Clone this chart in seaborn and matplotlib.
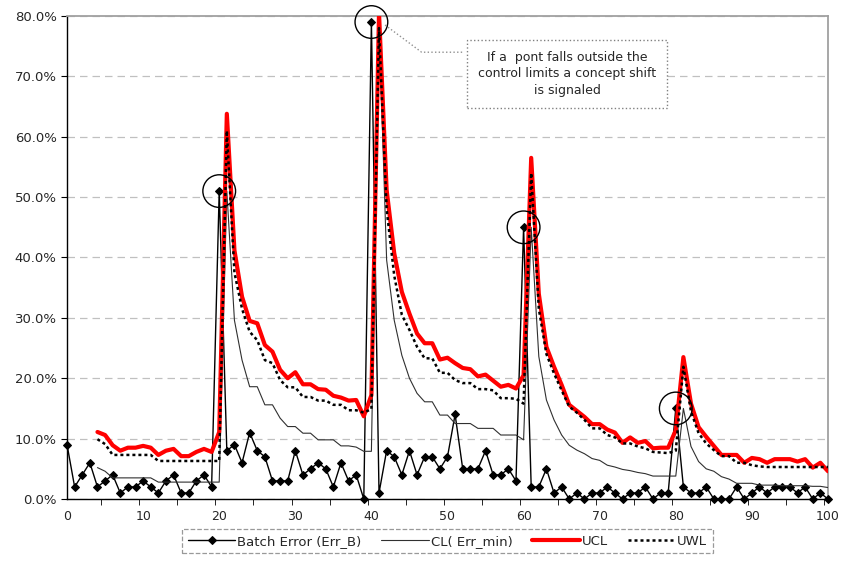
import numpy as np
import pandas as pd
import matplotlib
matplotlib.use("Agg")
import matplotlib.pyplot as plt
import seaborn as sns
from matplotlib.patches import Ellipse
from matplotlib.ticker import PercentFormatter, FixedLocator

# batch index 0..100, values in percent
batch_err = [9, 2, 4, 6, 2, 3, 4, 1, 2, 2, 3, 2, 1, 3, 4, 1, 1, 3, 4, 2,
             51, 8, 9, 6, 11, 8, 7, 3, 3, 3, 8, 4, 5, 6, 5, 2, 6, 3, 4, 0,
             79, 1, 8, 7, 4, 8, 4, 7, 7, 5, 7, 14, 5, 5, 5, 8, 4, 4, 5, 3,
             45, 2, 2, 5, 1, 2, 0, 1, 0, 1, 1, 2, 1, 0, 1, 1, 2, 0, 1, 1,
             15, 2, 1, 1, 2, 0, 0, 0, 2, 0, 1, 2, 1, 2, 2, 2, 1, 2, 0, 1, 0]

# the control lines start at batch 4
cl = [5.2, 4.6, 3.5, 3.5, 3.5, 3.5, 3.5, 3.5, 2.8, 2.8, 2.8, 2.8, 2.8, 2.8, 2.8, 2.8, 2.8,
      51, 29.6, 23, 18.6, 18.6, 15.6, 15.6, 13.4, 12, 12, 10.9, 10.9, 9.8, 9.8, 9.8,
      8.8, 8.8, 8.6, 7.9, 7.9,
      79, 39.6, 29.6, 23.8, 20, 17.5, 16.1, 16.1, 13.9, 13.9, 12.5, 12.5, 12.5,
      11.7, 11.7, 11.7, 10.6, 10.6, 10.6, 9.8,
      45, 23.6, 16.4, 13.1, 10.6, 8.9, 8.1, 7.5, 6.7, 6.4, 5.6, 5.3, 4.9, 4.7,
      4.4, 4.2, 3.8, 3.8, 3.8, 3.8,
      15, 8.7, 6.2, 5.0, 4.6, 3.7, 3.3, 2.6, 2.6, 2.6, 2.3, 2.3, 2.3, 2.2, 2.2,
      2.2, 2.2, 2.1, 2.1, 1.9]

ucl = [11.1, 10.6, 8.9, 8.0, 8.5, 8.5, 8.8, 8.5, 7.3, 8.0, 8.3, 7.1, 7.1, 7.8, 8.3, 7.8, 11.1,
       63.8, 41.2, 33.5, 29.5, 29.1, 25.5, 24.4, 21.4, 20.0, 21.0, 19.0, 19.0, 18.2, 18.1,
       17.1, 16.8, 16.3, 16.4, 13.7, 17.2,
       80.5, 51.2, 40.7, 34.3, 30.7, 27.4, 25.8, 25.8, 23.1, 23.4, 22.5, 21.7, 21.5,
       20.3, 20.6, 19.6, 18.6, 18.9, 18.3, 20.5,
       56.5, 34.0, 25.2, 21.9, 18.9, 15.6, 14.6, 13.6, 12.4, 12.4, 11.5, 11.0, 9.3,
       10.2, 9.3, 9.6, 8.4, 8.5, 8.5, 11.4,
       23.5, 15.8, 11.9, 10.3, 8.8, 7.3, 7.3, 7.3, 6.0, 6.8, 6.6, 6.0, 6.6, 6.6,
       6.6, 6.2, 6.6, 5.2, 6.0, 4.6]

uwl = [9.9, 9.1, 7.3, 7.3, 7.3, 7.3, 7.3, 7.3, 6.3, 6.3, 6.3, 6.3, 6.3, 6.3, 6.3, 6.3, 6.3,
       61.0, 37.5, 31.5, 27.7, 26.3, 23.0, 22.5, 19.7, 18.5, 18.5, 16.9, 16.9, 16.3, 16.3,
       15.6, 15.6, 14.7, 14.7, 14.3, 14.9,
       78.0, 48.0, 37.0, 30.5, 28.0, 25.2, 23.3, 23.3, 20.9, 20.9, 19.7, 19.2, 19.2,
       18.2, 18.2, 18.0, 16.7, 16.7, 16.6, 15.8,
       54.0, 31.5, 24.0, 20.8, 18.0, 15.3, 14.3, 13.1, 11.7, 11.7, 10.6, 10.2, 9.2,
       9.2, 8.7, 8.4, 7.8, 7.7, 7.6, 8.0,
       21.9, 14.5, 10.9, 9.2, 8.1, 7.1, 7.1, 6.0, 6.0, 5.6, 5.4, 5.3, 5.3, 5.3,
       5.3, 5.3, 5.3, 5.3, 5.3, 5.3]

shift_points = [20, 40, 60, 80]
note = "If a  pont falls outside the\ncontrol limits a concept shift\nis signaled"

batch = np.arange(len(batch_err))
start = len(batch_err) - len(cl)
df = pd.DataFrame({"batch": batch, "err": batch_err})
df["cl"] = [np.nan] * start + cl
df["ucl"] = [np.nan] * start + ucl
df["uwl"] = [np.nan] * start + uwl

sns.set_style("white")
plt.rcParams["font.family"] = ["DejaVu Sans"]

fig, ax = plt.subplots(figsize=(8.41, 5.61), dpi=100)
fig.subplots_adjust(left=0.0797, right=0.9845, top=0.9715, bottom=0.1105)

sns.lineplot(data=df, x="batch", y="err", color="black", lw=1, marker="D",
             markersize=4.2, markeredgecolor="black", label="Batch Error (Err_B)",
             ax=ax, clip_on=False, zorder=3)
sns.lineplot(data=df, x="batch", y="cl", color="#303030", lw=0.8,
             label="CL( Err_min)", ax=ax, zorder=3)
sns.lineplot(data=df, x="batch", y="ucl", color="#ff0000", lw=3,
             label="UCL", ax=ax, zorder=4)
sns.lineplot(data=df, x="batch", y="uwl", color="black", lw=1.8,
             linestyle=(0, (1.2, 1.2)), label="UWL", ax=ax, zorder=5)

for i in shift_points:
    ax.add_patch(Ellipse((i, batch_err[i]), width=4.3, height=5.4, fill=False,
                         edgecolor="black", lw=1, zorder=6, clip_on=False))

ax.set_xlim(0, 100)
ax.set_ylim(0, 80)
ax.set_xlabel("")
ax.set_ylabel("")
ax.yaxis.set_major_formatter(PercentFormatter(100, decimals=1))
ax.set_yticks(np.arange(0, 81, 10))
ax.set_xticks(np.arange(0, 101, 10))
ax.xaxis.set_minor_locator(FixedLocator(np.arange(4.5, 100, 5)))
ax.tick_params(axis="x", which="major", length=0, labelsize=9, pad=8)
ax.tick_params(axis="x", which="minor", length=4, direction="out", color="black", bottom=True)
ax.tick_params(axis="y", length=4, direction="out", color="black", left=True, labelsize=9.5)
ax.grid(axis="y", color="#c0c0c0", linestyle=(0, (6, 4)), lw=0.9)

for side in ["left", "bottom"]:
    ax.spines[side].set_color("black")
    ax.spines[side].set_linewidth(1)
for side in ["top", "right"]:
    ax.spines[side].set_color("#a0a0a0")
    ax.spines[side].set_linewidth(1.3)

# callout box with leader line
ax.text(65.7, 70.4, note, ha="center", va="center", fontsize=9, linespacing=1.35,
        bbox=dict(boxstyle="square,pad=0.9", facecolor="white", edgecolor="#808080",
                  linestyle=":", lw=1), zorder=7)
ax.plot([41.8, 46.6, 52.0], [78.5, 74.0, 74.0], color="#909090", lw=1,
        linestyle=":", zorder=7)

leg = ax.legend(loc="center", bbox_to_anchor=(0.5, -0.087), ncol=4, frameon=True,
                fancybox=False, fontsize=9.5, handlelength=3.6, columnspacing=1.5,
                handletextpad=0.15, borderpad=0.45, numpoints=1)
frame = leg.get_frame()
frame.set_edgecolor("#808080")
frame.set_linestyle("--")
frame.set_linewidth(0.9)

fig.savefig("out.png", dpi=100)
